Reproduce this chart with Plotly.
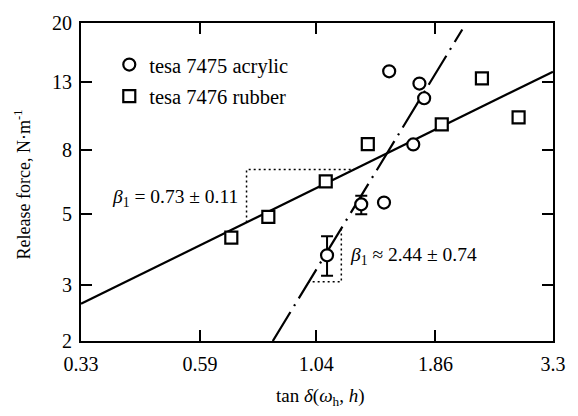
import numpy as np
import plotly.graph_objects as go

# Release force vs. loss tangent for two pressure-sensitive tapes
acrylic_x = [1.484, 1.72, 1.76, 1.669, 1.447]
acrylic_y = [14.1, 12.9, 11.6, 8.3, 5.45]

# acrylic points carrying error bars
acrylic_err_x = [1.096, 1.295]
acrylic_err_y = [3.72, 5.38]
acrylic_err_plus = [0.55, 0.35]
acrylic_err_minus = [0.51, 0.37]

rubber_x = [0.687, 0.823, 1.089, 1.337, 1.918, 2.333, 2.79]
rubber_y = [4.23, 4.91, 6.35, 8.32, 9.60, 13.4, 10.1]

# power-law fits  F = A * (tan d)^beta
rubber_A, rubber_beta = 5.88, 0.73
acrylic_A, acrylic_beta = 3.05, 2.44
rubber_fit_span = [0.33, 3.3]
acrylic_fit_span = [0.841, 2.12]

# slope triangles drawn against each fit
rubber_tri = [0.74, 1.25]
acrylic_tri = [1.003, 1.175]

x_ticks = [0.33, 0.59, 1.04, 1.86, 3.3]
x_ticktext = ["0.33", "0.59", "1.04", "1.86", "3.3"]
y_ticks = [2, 3, 5, 8, 13, 20]
y_ticktext = ["2", "3", "5", "8", "13", "20"]

FONT = "Liberation Serif"


def power_law(A, b, xs):
    xs = np.asarray(xs, dtype=float)
    return A * xs ** b


fig = go.Figure()

# fitted lines
fig.add_trace(go.Scatter(
    x=rubber_fit_span, y=power_law(rubber_A, rubber_beta, rubber_fit_span),
    mode="lines", line=dict(color="black", width=2.2), showlegend=False,
    hoverinfo="skip"))
fig.add_trace(go.Scatter(
    x=acrylic_fit_span, y=power_law(acrylic_A, acrylic_beta, acrylic_fit_span),
    mode="lines", line=dict(color="black", width=2.2, dash="34px,7px,2px,7px"),
    showlegend=False, hoverinfo="skip"))

# slope triangles
r1, r2 = rubber_tri
ry = power_law(rubber_A, rubber_beta, rubber_tri)
fig.add_trace(go.Scatter(
    x=[r1, r1, r2], y=[ry[0], ry[1], ry[1]], mode="lines",
    line=dict(color="black", width=1.5, dash="2px,3px"),
    showlegend=False, hoverinfo="skip"))
a1, a2 = acrylic_tri
ay = power_law(acrylic_A, acrylic_beta, acrylic_tri)
fig.add_trace(go.Scatter(
    x=[a2, a2, a1], y=[ay[1], ay[0], ay[0]], mode="lines",
    line=dict(color="black", width=1.5, dash="2px,3px"),
    showlegend=False, hoverinfo="skip"))

marker_style = dict(size=12, color="white", line=dict(color="black", width=2.2))

fig.add_trace(go.Scatter(
    x=acrylic_x, y=acrylic_y, mode="markers", name="tesa 7475 acrylic",
    marker=dict(symbol="circle", **marker_style), legendgroup="a"))
fig.add_trace(go.Scatter(
    x=acrylic_err_x, y=acrylic_err_y, mode="markers", showlegend=False,
    marker=dict(symbol="circle", **marker_style), legendgroup="a",
    error_y=dict(type="data", array=acrylic_err_plus,
                 arrayminus=acrylic_err_minus, color="black",
                 thickness=2, width=6)))
fig.add_trace(go.Scatter(
    x=rubber_x, y=rubber_y, mode="markers", name="tesa 7476 rubber",
    marker=dict(symbol="square", **marker_style), legendgroup="r"))

L, R, T, B = 81, 13, 19, 75
W, H = 578, 416
pw, ph = W - L - R, H - T - B


def px_x(p):
    return (p - L) / pw


def px_y(p):
    return 1 - (p - T) / ph


annotations = [
    dict(text="<i>β</i><sub>1</sub> = 0.73 ± 0.11", x=px_x(244), y=px_y(196),
         xanchor="right", yanchor="middle", size=19.5),
    dict(text="<i>β</i><sub>1</sub> ≈ 2.44 ± 0.74", x=px_x(355), y=px_y(255),
         xanchor="left", yanchor="middle", size=19.5),
    dict(text="Release force, N·m<sup>-1</sup>", x=px_x(22), y=px_y(182),
         textangle=-90, xanchor="center", yanchor="middle", size=18),
    dict(text="tan <i>δ</i>(<i>ω</i><sub>h</sub>, <i>h</i>)", x=px_x(327),
         y=px_y(398), xanchor="center", yanchor="middle", size=19),
]
for a in annotations:
    sz = a.pop("size")
    a.update(xref="paper", yref="paper", showarrow=False,
             font=dict(family=FONT, size=sz, color="black"))

axis_common = dict(
    showline=True, linecolor="black", linewidth=2, mirror="ticks",
    ticks="inside", ticklen=11, tickwidth=2, tickcolor="black",
    showgrid=False, zeroline=False,
    tickfont=dict(family=FONT, size=20, color="black"))

fig.update_xaxes(type="log", range=[np.log10(0.33), np.log10(3.3)],
                 tickvals=x_ticks, ticktext=x_ticktext,
                 ticklabelstandoff=4, **axis_common)
fig.update_yaxes(type="log", range=[np.log10(2), np.log10(20)],
                 tickvals=y_ticks, ticktext=y_ticktext,
                 ticklabelstandoff=3, **axis_common)

fig.update_layout(
    width=W, height=H,
    margin=dict(l=L, r=R, t=T, b=B),
    paper_bgcolor="white", plot_bgcolor="white",
    annotations=annotations,
    legend=dict(x=px_x(110), y=px_y(41), xanchor="left", yanchor="top",
                bgcolor="rgba(0,0,0,0)", tracegroupgap=2,
                font=dict(family=FONT, size=20.5, color="black")),
    font=dict(family=FONT, color="black"),
)

fig.write_html("out.html")
